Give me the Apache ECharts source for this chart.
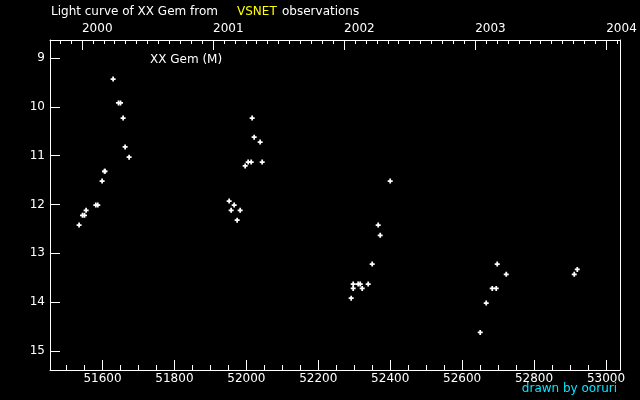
<!DOCTYPE html>
<html>
<head>
<meta charset="utf-8">
<script src="https://cdn.jsdelivr.net/npm/echarts@6/dist/echarts.min.js"></script>
<style>
html,body{margin:0;padding:0;background:#000;}
#chart{width:640px;height:400px;}
</style>
</head>
<body>
<div id="chart"></div>
<script>
// Observation dates (JD - 2400000)
var jd = [
  51629.5, 51644.5, 51650.1, 51657.3, 51662.9, 51674.0, 51605.5, 51607.0, 51598.9,
  51581.4, 51586.9, 51554.4, 51544.4, 51549.9, 51534.9,
  52016.1, 52021.7, 52038.4, 52005.0, 52013.4, 52044.0, 51996.7, 51952.2, 51966.1,
  51957.7, 51982.8, 51974.4,
  52400.0, 52366.6, 52372.2, 52349.9, 52297.1, 52311.0, 52316.6, 52338.8, 52297.1,
  52322.1, 52291.5,
  52697.6, 52722.7, 52683.7, 52694.8, 52667.0, 52650.3, 52920.2, 52911.8
];
// Visual magnitudes
var mag = [
  9.43, 9.92, 9.92, 10.23, 10.82, 11.03, 11.32, 11.32, 11.52,
  12.01, 12.01, 12.12, 12.22, 12.22, 12.42,
  10.23, 10.62, 10.72, 11.13, 11.13, 11.13, 11.21, 11.93, 12.01,
  12.12, 12.12, 12.32,
  11.52, 12.42, 12.63, 13.22, 13.63, 13.63, 13.63, 13.63, 13.72,
  13.72, 13.92,
  13.22, 13.43, 13.72, 13.72, 14.02, 14.62, 13.33, 13.43
];
var jdTicks = [51600, 51800, 52000, 52200, 52400, 52600, 52800, 53000];
var magTicks = [9, 10, 11, 12, 13, 14, 15];
var yearTicks = [2000, 2001, 2002, 2003, 2004];
var yearLabels = ['2000', '2001', '2002', '2003', '2004'];

var JD_MIN = 51454, JD_MAX = 53039;
var YR_MIN = 1999.756, YR_MAX = 2004.105;

var jdMinor = [];
for (var v = 51500; v <= 53000; v += 50) { if (v % 200 !== 0) jdMinor.push(v); }
var monthTicks = [];
for (var y = 1999; y <= 2004; y++) {
  for (var m = 1; m < 12; m++) {
    var t = y + m / 12;
    if (t > YR_MIN && t < YR_MAX) monthTicks.push(t);
  }
}

var points = jd.map(function (d, i) { return [d, mag[i]]; });

var FONT = 'DejaVu Sans';
var lineStyle = { color: '#ffffff', width: 1 };

var chart = echarts.init(document.getElementById('chart'), null, { renderer: 'canvas' });
chart.setOption({
  backgroundColor: '#000000',
  animation: false,
  grid: { left: 50, right: 20, top: 40, bottom: 30, containLabel: false },
  xAxis: [
    {
      type: 'value', position: 'bottom', min: JD_MIN, max: JD_MAX,
      axisLine: { show: true, lineStyle: lineStyle },
      axisTick: { show: true, inside: true, length: 10, lineStyle: lineStyle, customValues: jdTicks },
      axisLabel: { show: true, customValues: jdTicks, color: '#ffffff', fontFamily: FONT, fontSize: 12, margin: 3,
        formatter: function (v) { return String(v); } },
      splitLine: { show: false }
    },
    {
      type: 'value', position: 'bottom', min: JD_MIN, max: JD_MAX,
      axisLine: { show: false },
      axisTick: { show: true, inside: true, length: 5, lineStyle: lineStyle, customValues: jdMinor },
      axisLabel: { show: false },
      splitLine: { show: false }
    },
    {
      type: 'value', position: 'top', min: YR_MIN, max: YR_MAX,
      axisLine: { show: true, lineStyle: lineStyle },
      axisTick: { show: true, inside: true, length: 10, lineStyle: lineStyle, customValues: yearTicks },
      axisLabel: { show: true, customValues: yearTicks, color: '#ffffff', fontFamily: FONT, fontSize: 12, margin: 5, align: 'left',
        formatter: function (v) { var i = yearTicks.indexOf(Math.round(v)); return i >= 0 ? yearLabels[i] : ''; } },
      splitLine: { show: false }
    },
    {
      type: 'value', position: 'top', min: YR_MIN, max: YR_MAX,
      axisLine: { show: false },
      axisTick: { show: true, inside: true, length: 4, lineStyle: lineStyle, customValues: monthTicks },
      axisLabel: { show: false },
      splitLine: { show: false }
    }
  ],
  yAxis: [
    {
      type: 'value', position: 'left', inverse: true, min: 8.63, max: 15.39,
      axisLine: { show: true, lineStyle: lineStyle },
      axisTick: { show: true, inside: true, length: 10, lineStyle: lineStyle, customValues: magTicks },
      axisLabel: { show: true, customValues: magTicks, color: '#ffffff', fontFamily: FONT, fontSize: 12, margin: 5 },
      splitLine: { show: false }
    },
    {
      type: 'value', position: 'right', inverse: true, min: 8.63, max: 15.39,
      axisLine: { show: true, lineStyle: lineStyle },
      axisTick: { show: false },
      axisLabel: { show: false },
      splitLine: { show: false }
    }
  ],
  graphic: [
    { type: 'text', left: 51, top: 6, style: { text: 'Light curve of XX Gem from', fill: '#ffffff', font: '12px "DejaVu Sans"' } },
    { type: 'text', left: 237, top: 6, style: { text: 'VSNET', fill: '#ffff00', font: '12px "DejaVu Sans"' } },
    { type: 'text', left: 282, top: 6, style: { text: 'observations', fill: '#ffffff', font: '12px "DejaVu Sans"' } },
    { type: 'text', left: 150, top: 54, style: { text: 'XX Gem (M)', fill: '#ffffff', font: '12px "DejaVu Sans"' } },
    { type: 'text', right: 23, top: 383, style: { text: 'drawn by ooruri', fill: '#00e8ff', font: '12px "DejaVu Sans"' } }
  ],
  series: [
    {
      type: 'scatter', xAxisIndex: 0, yAxisIndex: 0,
      data: points,
      symbol: 'path://M0,1.3H4V2.7H0Z M1.3,0H2.7V4H1.3Z',
      symbolSize: 5,
      itemStyle: { color: '#ffffff', opacity: 1 },
      emphasis: { disabled: true },
      silent: true
    }
  ]
});
</script>
</body>
</html>
